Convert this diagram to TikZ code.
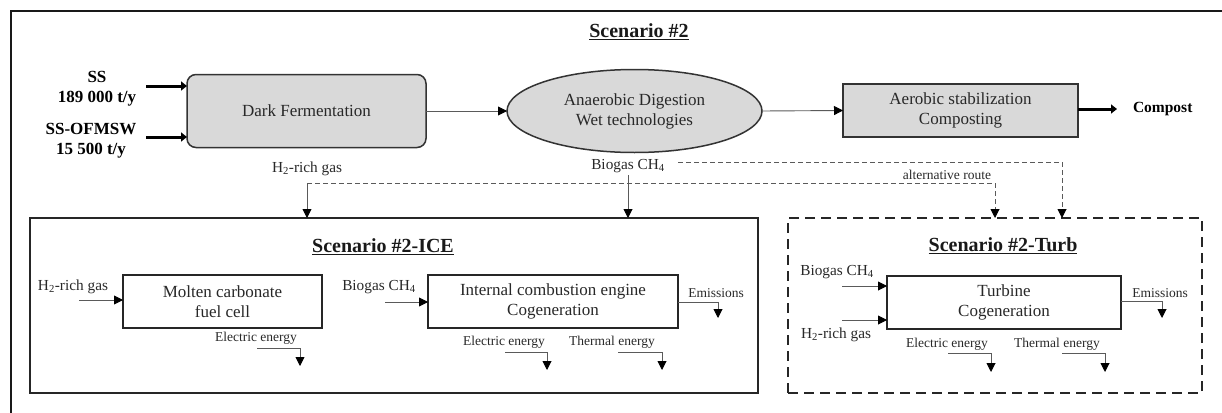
\documentclass[tikz,border=0pt]{standalone}
\usepackage{fontspec}
\setmainfont{Liberation Serif}
\usetikzlibrary{arrows.meta,shapes.geometric,calc}
\definecolor{boxgray}{RGB}{217,217,217}
\definecolor{linegray}{RGB}{90,90,90}
\definecolor{textgray}{RGB}{40,40,40}

\begin{document}
\begin{tikzpicture}[x=1pt,y=-1pt,
  every node/.style={inner sep=0pt, outer sep=0pt, text=textgray},
  tip/.style={-{Triangle[length=9pt,width=9pt,color=black]}},
  flow/.style={draw=linegray, line width=0.9pt, tip},
  dashflow/.style={draw=linegray, line width=0.9pt, dash pattern=on 5pt off 3pt},
  dashtip/.style={dashflow, tip},
  thickarr/.style={draw=black, line width=3pt, -{Triangle[length=6pt,width=9pt]}},
  procbox/.style={draw=black!80, line width=1.5pt, fill=boxgray, align=center,
    font=\fontsize{17}{20}\selectfont},
  unitbox/.style={draw=black!85, line width=1.4pt, fill=white, align=center,
    font=\fontsize{17}{20}\selectfont, minimum height=53pt},
  frame/.style={draw=black!85, line width=1.6pt},
  scentitle/.style={font=\bfseries\fontsize{20}{24}\selectfont, text=black!90},
  feed/.style={font=\bfseries\fontsize{17}{20}\selectfont, align=center, text=black},
  gaslabel/.style={font=\fontsize{15.3}{18}\selectfont},
  outlabel/.style={font=\fontsize{13.5}{16}\selectfont},
  outarr/.style={draw=linegray, line width=0.9pt, tip}
]
\path[use as bounding box, clip] (0,0) rectangle (1222,412);

% outer frame, running past the right and bottom edges
\draw[line width=2pt, draw=black!90] (11,11) rectangle (1240,440);

% ---- main line ----
\node[scentitle] (title) at (639,32) {\underline{Scenario \#2}};

\node[feed] (ss) at (97,89) {SS\\189 000 t/y};
\node[feed] (ofmsw) at (91,141) {SS-OFMSW\\15 500 t/y};

\node[procbox, rounded corners=9pt, minimum width=239pt, minimum height=73pt]
  (df) at (306.5,111) {Dark Fermentation};
\node[procbox, ellipse, minimum width=255pt, minimum height=83pt]
  (ad) at (634.5,111) {Anaerobic Digestion\\Wet technologies};
\node[procbox, minimum width=235pt, minimum height=53pt]
  (aer) at (960.5,110.5) {Aerobic stabilization\\Composting};
\node[font=\bfseries\fontsize{15.5}{18}\selectfont, text=black, anchor=west]
  (compost) at (1133,109) {Compost};

\coordinate (ssA) at (146,86);
\coordinate (ofA) at (146,137);
\draw[thickarr] (ssA) -- (ssA -| df.west);
\draw[thickarr] (ofA) -- (ofA -| df.west);
\draw[flow] (df.east) -- (ad.west);
\draw[flow] (ad.east) -- (aer.west);
\draw[thickarr] (aer.east |- compost.west) -- ($(compost.west)+(-16,0)$);

% ---- gas streams ----
\node[gaslabel] (h2top) at (307,169) {H\textsubscript{2}-rich gas};
\node[gaslabel] (biotop) at (628,166) {Biogas CH\textsubscript{4}};
\node[outlabel] (alt) at (947,175) {alternative route};

\coordinate (h2split) at (307,183);
\coordinate (altdown) at (995,183);
\coordinate (biostart) at (628,175);
\coordinate (bioalt) at (678,162);
\coordinate (bioaltdown) at (1062,162);

% ---- scenario boxes ----
\node[frame, minimum width=728pt, minimum height=175pt] (ice) at (394,305.5) {};
\node[frame, dash pattern=on 10pt off 6pt, line width=2pt,
  minimum width=414pt, minimum height=175pt] (turb) at (995,305.5) {};

\draw[flow] (h2split) -- (h2split |- ice.north);
\draw[flow] (biostart) -- (biostart |- ice.north);
\draw[dashflow] (h2split) -- (altdown);
\draw[dashtip] (altdown) -- (altdown |- turb.north);
\draw[dashflow] (bioalt) -- (bioaltdown);
\draw[dashtip] (bioaltdown) -- (bioaltdown |- turb.north);

% ---- Scenario #2-ICE ----
\node[scentitle] (icetitle) at (383,247) {\underline{Scenario \#2-ICE}};

\node[unitbox, minimum width=199pt] (mcfc) at (222.5,301.5)
  {Molten carbonate\\fuel cell};
\node[unitbox, minimum width=250pt] (engine) at (553,301.5)
  {Internal combustion engine\\Cogeneration};

\node[gaslabel] (h2ice) at (73,287) {H\textsubscript{2}-rich gas};
\node[gaslabel] (bioice) at (379,287) {Biogas CH\textsubscript{4}};
\coordinate (h2iceA) at (79,300);
\coordinate (bioiceA) at (385,302);
\draw[flow] (h2iceA) -- (h2iceA -| mcfc.west);
\draw[flow] (bioiceA) -- (bioiceA -| engine.west);

\node[outlabel] (elec1) at (256,338) {Electric energy};
\coordinate (elec1A) at (257,348);
\coordinate (elec1B) at (300,348);
\draw[outarr] (elec1A) -- (elec1B) -- ++(0,18);

\node[outlabel] (elec2) at (504,342) {Electric energy};
\coordinate (elec2A) at (505,352);
\coordinate (elec2B) at (547,352);
\draw[outarr] (elec2A) -- (elec2B) -- ++(0,18);

\node[outlabel] (therm2) at (612,342) {Thermal energy};
\coordinate (therm2A) at (618,352);
\coordinate (therm2B) at (662,352);
\draw[outarr] (therm2A) -- (therm2B) -- ++(0,18);

\node[outlabel] (emis2) at (716,293) {Emissions};
\coordinate (emis2B) at (718,302);
\draw[outarr] (emis2B -| engine.east) -- (emis2B) -- ++(0,16);

% ---- Scenario #2-Turb ----
\node[scentitle] (turbtitle) at (1003,246) {\underline{Scenario \#2-Turb}};

\node[unitbox, minimum width=234pt] (turbine) at (1004,302.5)
  {Turbine\\Cogeneration};

\node[gaslabel] (bioturb) at (837,272) {Biogas CH\textsubscript{4}};
\node[gaslabel] (h2turb) at (836,335) {H\textsubscript{2}-rich gas};
\coordinate (bioturbA) at (842,286);
\coordinate (h2turbA) at (842,320);
\draw[flow] (bioturbA) -- (bioturbA -| turbine.west);
\draw[flow] (h2turbA) -- (h2turbA -| turbine.west);

\node[outlabel] (emis3) at (1160,293) {Emissions};
\coordinate (emis3B) at (1162,301);
\draw[outarr] (emis3B -| turbine.east) -- (emis3B) -- ++(0,17);

\node[outlabel] (elec3) at (947,344) {Electric energy};
\coordinate (elec3A) at (948,353);
\coordinate (elec3B) at (991,353);
\draw[outarr] (elec3A) -- (elec3B) -- ++(0,19);

\node[outlabel] (therm3) at (1057,344) {Thermal energy};
\coordinate (therm3A) at (1062,353);
\coordinate (therm3B) at (1105,353);
\draw[outarr] (therm3A) -- (therm3B) -- ++(0,19);
\end{tikzpicture}
\end{document}
